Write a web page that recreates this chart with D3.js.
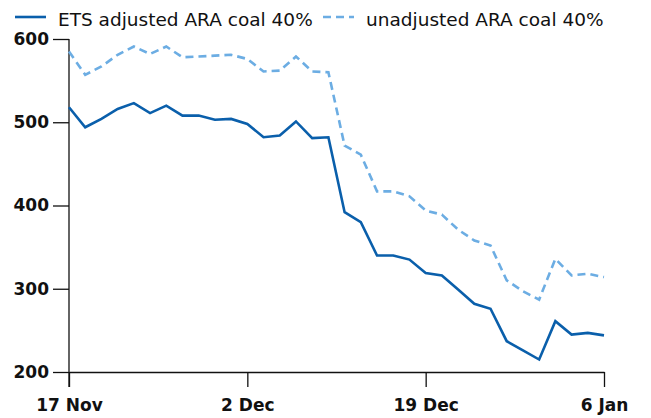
<!DOCTYPE html>
<html>
<head>
<meta charset="utf-8">
<script src="https://cdn.jsdelivr.net/npm/d3@7"></script>
<style>
  body { margin: 0; background: #fff; }
  svg { display: block; font-family: "DejaVu Sans", sans-serif; }
</style>
</head>
<body>
<div id="chart"></div>
<script>
const width = 651;
const height = 418;

// x positions are trading-day indices; labels sit every 11 points
const tickIndex = [0, 11, 22, 33];
const tickLabels = ["17 Nov", "2 Dec", "19 Dec", "6 Jan"];
const yTicks = [200, 300, 400, 500, 600];

const seriesNames = ["ETS adjusted ARA coal 40%", "unadjusted ARA coal 40%"];

const etsAdjusted = [
  518, 494, 504, 516, 523, 511, 520, 508, 508, 503, 504, 498,
  482, 484, 501, 481, 482, 392, 380, 340, 340, 335, 319, 316,
  299, 282, 276, 237, 226, 215, 261, 245, 247, 244
];
const unadjusted = [
  585, 557, 567, 581, 591, 582, 591, 578, 579, 580, 581, 576,
  561, 562, 579, 561, 560, 472, 461, 417, 417, 411, 394, 389,
  371, 358, 352, 310, 297, 287, 336, 316, 318, 314
];

const margin = { top: 39, right: 47, bottom: 46, left: 69 };

const svg = d3.select("#chart")
    .append("svg")
    .attr("width", width)
    .attr("height", height);

const x = d3.scaleLinear()
    .domain([0, etsAdjusted.length - 1])
    .range([margin.left, width - margin.right]);

const y = d3.scaleLinear()
    .domain([200, 600])
    .range([height - margin.bottom, margin.top]);

// Axes
const xAxis = svg.append("g")
    .attr("transform", `translate(0,${height - margin.bottom})`)
    .call(d3.axisBottom(x)
        .tickValues(tickIndex)
        .tickFormat((d, i) => tickLabels[i])
        .tickSize(15)
        .tickPadding(12)
        .tickSizeOuter(0));

const yAxis = svg.append("g")
    .attr("transform", `translate(${margin.left},0)`)
    .call(d3.axisLeft(y)
        .tickValues(yTicks)
        .tickSize(16)
        .tickPadding(4)
        .tickSizeOuter(0));

[xAxis, yAxis].forEach(ax => {
    ax.selectAll("path, line").attr("stroke", "#111").attr("stroke-width", 1.3);
    ax.selectAll("text")
        .attr("fill", "#111")
        .style("font-size", "17px")
        .style("font-weight", "bold")
        .style("font-family", "\"DejaVu Sans\", sans-serif");
});

// extend y axis line down to match the x tick length
yAxis.select(".domain").attr("d", `M0,${margin.top}V${height - margin.bottom + 15}`);

// Lines
const line = d3.line()
    .x((d, i) => x(i))
    .y(d => y(d));

const series = [
  { values: unadjusted, color: "#6cade3", dash: "8,5" },
  { values: etsAdjusted, color: "#0a5fab", dash: null }
];

svg.append("g")
    .selectAll("path")
    .data(series)
    .join("path")
    .attr("fill", "none")
    .attr("stroke", d => d.color)
    .attr("stroke-width", 2.6)
    .attr("stroke-linejoin", "miter")
    .attr("stroke-dasharray", d => d.dash)
    .attr("d", d => line(d.values));

// Legend
const legendItems = [
  { name: seriesNames[0], color: "#0a5fab", dash: null, x: 15 },
  { name: seriesNames[1], color: "#6cade3", dash: "8,5", x: 323 }
];

const legend = svg.append("g")
    .selectAll("g")
    .data(legendItems)
    .join("g")
    .attr("transform", d => `translate(${d.x},17)`);

legend.append("line")
    .attr("x1", 0).attr("x2", 31)
    .attr("stroke", d => d.color)
    .attr("stroke-width", 2.6)
    .attr("stroke-dasharray", d => d.dash);

legend.append("text")
    .attr("x", 43)
    .attr("y", 9)
    .attr("fill", "#111")
    .style("font-size", "18.5px")
    .text(d => d.name);
</script>
</body>
</html>
